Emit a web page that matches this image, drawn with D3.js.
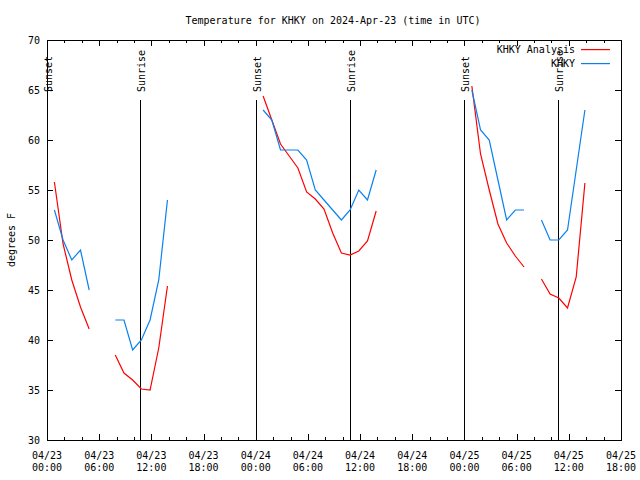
<!DOCTYPE html>
<html>
<head>
<meta charset="utf-8">
<script src="https://cdn.jsdelivr.net/npm/d3@7"></script>
<style>
  body { margin: 0; background: #fff; }
  text { font-family: "DejaVu Sans Mono", "Liberation Mono", monospace; font-size: 10px; fill: #000; }
</style>
</head>
<body>
<svg id="chart" width="640" height="480"></svg>
<script>
// hourly samples, first one at 2024-04-23 00:51 UTC
const startTime = "2024-04-23T00:51:00Z";

const analysisTemps = [
  55.8, 49.6, 46.0, 43.3, 41.1, null, null,
  38.5, 36.7, 36.0, 35.1, 35.0, 39.2, 45.4,
  null, null, null, null, null, null, null, null, null, null,
  64.4, 62.0, 59.6, 58.4, 57.2, 54.8, 54.1, 53.1, 50.7, 48.7, 48.5, 48.9, 49.9, 52.9,
  null, null, null, null, null, null, null, null, null, null,
  65.4, 58.6, 55.0, 51.6, 49.7, 48.4, 47.3, null,
  46.1, 44.6, 44.2, 43.2, 46.3, 55.7
];

const observedTemps = [
  53, 50, 48, 49, 45, null, null,
  42, 42, 39, 40, 42, 46, 54,
  null, null, null, null, null, null, null, null, null, null,
  63, 62, 59, 59, 59, 58, 55, 54, 53, 52, 53, 55, 54, 57,
  null, null, null, null, null, null, null, null, null, null,
  65, 61, 60, 56, 52, 53, 53, null,
  52, 50, 50, 51, 57, 63
];

const sunEvents = [
  { label: "Sunset",  time: "2024-04-23T00:00:00Z" },
  { label: "Sunrise", time: "2024-04-23T10:45:00Z" },
  { label: "Sunset",  time: "2024-04-23T23:59:00Z" },
  { label: "Sunrise", time: "2024-04-24T10:47:00Z" },
  { label: "Sunset",  time: "2024-04-24T23:58:00Z" },
  { label: "Sunrise", time: "2024-04-25T10:45:00Z" }
];

const timeDomain = ["2024-04-23T00:00:00Z", "2024-04-25T18:00:00Z"];
const tempTicks = [30, 35, 40, 45, 50, 55, 60, 65, 70];

const svg = d3.select("#chart");
const margin = { top: 40, right: 19, bottom: 40, left: 47 };
const width = 640, height = 480;

const x = d3.scaleUtc()
  .domain(timeDomain.map(d => new Date(d)))
  .range([margin.left, width - margin.right]);

const y = d3.scaleLinear()
  .domain([30, 70])
  .range([height - margin.bottom, margin.top]);

const t0 = new Date(startTime);
const hourAt = i => new Date(t0.getTime() + i * 3600e3);

// border
svg.append("rect")
  .attr("x", x.range()[0] + 0.5)
  .attr("y", y(70) + 0.5)
  .attr("width", x.range()[1] - x.range()[0])
  .attr("height", y(30) - y(70))
  .attr("fill", "none")
  .attr("stroke", "#000")
  .attr("shape-rendering", "crispEdges");

// x ticks: major 6h, minor 2h, mirrored on top
const majorTicks = d3.utcHour.every(6).range(x.domain()[0], new Date(x.domain()[1].getTime() + 1));
const minorTicks = d3.utcHour.every(2).range(x.domain()[0], new Date(x.domain()[1].getTime() + 1));

const tickG = svg.append("g")
  .attr("stroke", "#000")
  .attr("shape-rendering", "crispEdges");

minorTicks.forEach(t => {
  const len = t.getUTCHours() % 6 === 0 ? 6 : 3;
  const px = Math.round(x(t)) + 0.5;
  tickG.append("line").attr("x1", px).attr("x2", px).attr("y1", y(30)).attr("y2", y(30) - len);
  tickG.append("line").attr("x1", px).attr("x2", px).attr("y1", y(70)).attr("y2", y(70) + len);
});

tempTicks.forEach(v => {
  const py = Math.round(y(v)) + 0.5;
  tickG.append("line").attr("x1", x.range()[0]).attr("x2", x.range()[0] + 6).attr("y1", py).attr("y2", py);
  tickG.append("line").attr("x1", x.range()[1]).attr("x2", x.range()[1] - 6).attr("y1", py).attr("y2", py);
  svg.append("text")
    .attr("x", 40)
    .attr("y", y(v) + 4)
    .attr("text-anchor", "end")
    .text(v);
});

const fmtDay = d3.utcFormat("%m/%d");
const fmtTime = d3.utcFormat("%H:%M");
majorTicks.forEach(t => {
  const lab = svg.append("text")
    .attr("x", x(t))
    .attr("text-anchor", "middle");
  lab.append("tspan").attr("x", x(t)).attr("y", 459).text(fmtDay(t));
  lab.append("tspan").attr("x", x(t)).attr("y", 471).text(fmtTime(t));
});

// sunrise / sunset markers
sunEvents.forEach(e => {
  const px = Math.round(x(new Date(e.time))) + 0.5;
  svg.append("line")
    .attr("x1", px).attr("x2", px)
    .attr("y1", y(64)).attr("y2", y(30))
    .attr("stroke", "#000")
    .attr("shape-rendering", "crispEdges");
  svg.append("text")
    .attr("transform", `translate(${px + 4},${y(64) - 8}) rotate(-90)`)
    .attr("text-anchor", "start")
    .text(e.label);
});

// data lines
const line = d3.line()
  .defined(d => d.v != null)
  .x(d => x(d.t))
  .y(d => y(d.v));

const series = [
  { name: "KHKY Analysis", values: analysisTemps, color: "#ff0000" },
  { name: "KHKY", values: observedTemps, color: "#0a80f0" }
];

series.forEach((s, k) => {
  const pts = s.values.map((v, i) => ({ t: hourAt(i), v }));
  svg.append("path")
    .datum(pts)
    .attr("d", line)
    .attr("fill", "none")
    .attr("stroke", s.color)
    .attr("stroke-width", 1.2);

  // legend
  const ly = 49 + k * 14;
  svg.append("text")
    .attr("x", 575)
    .attr("y", ly + 4)
    .attr("text-anchor", "end")
    .text(s.name);
  svg.append("rect")
    .attr("x", 581)
    .attr("y", ly)
    .attr("width", 29)
    .attr("height", 1.2)
    .attr("fill", s.color);
});

// title and axis label
svg.append("text")
  .attr("x", 333)
  .attr("y", 24)
  .attr("text-anchor", "middle")
  .text("Temperature for KHKY on 2024-Apr-23 (time in UTC)");

svg.append("text")
  .attr("transform", `translate(15,240) rotate(-90)`)
  .attr("text-anchor", "middle")
  .text("degrees F");
</script>
</body>
</html>
